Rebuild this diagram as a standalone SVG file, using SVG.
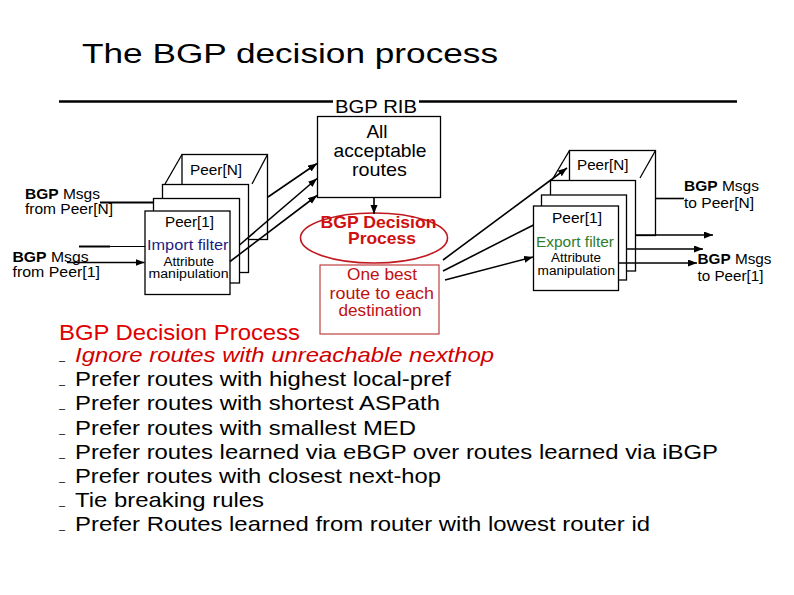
<svg xmlns="http://www.w3.org/2000/svg" width="794" height="595" viewBox="0 0 794 595">
<defs>
<marker id="ah" markerUnits="userSpaceOnUse" markerWidth="10" markerHeight="8" refX="9" refY="3.5" orient="auto">
<path d="M0,0 L9,3.5 L0,7 z" fill="#000"/>
</marker>
<style>
text{font-family:"Liberation Sans",Arial,sans-serif;fill:#000}
.box{fill:#fff;stroke:#000;stroke-width:1.3}
.ln{stroke:#000;stroke-width:1.6;fill:none}
.arr{stroke:#000;stroke-width:1.6;fill:none;marker-end:url(#ah)}
.s15{font-size:15px}
.s14{font-size:14px}
.s13{font-size:12.5px}
.b{font-weight:bold}
.bul{font-size:21px}
.dash{font-size:11px}
.red{font-size:16px;fill:#c01010}
</style>
</defs>
<rect width="794" height="595" fill="#fff"/>
<text x="82" y="63" style="font-size:27px" textLength="416" lengthAdjust="spacingAndGlyphs">The BGP decision process</text>

<g id="rib">
<line x1="59" y1="101.5" x2="333" y2="101.5" stroke="#000" stroke-width="2.5"/>
<line x1="419" y1="101.5" x2="737" y2="101.5" stroke="#000" stroke-width="2.5"/>
<text x="335" y="112.5" style="font-size:17.5px" textLength="82" lengthAdjust="spacingAndGlyphs">BGP RIB</text>
<rect x="317.5" y="116.5" width="123" height="81" class="box"/>
<text x="377" y="138" style="font-size:19px" text-anchor="middle">All</text>
<text x="333.5" y="157" style="font-size:19px" textLength="93" lengthAdjust="spacingAndGlyphs">acceptable</text>
<text x="352" y="176" style="font-size:19px" textLength="55" lengthAdjust="spacingAndGlyphs">routes</text>
</g>

<g id="decision">
<ellipse cx="374" cy="238" rx="73.5" ry="25" fill="none" stroke="#c0181e" stroke-width="1.6"/>
<text x="320.5" y="227.5" style="font-size:16.5px;font-weight:bold;fill:#d01010" textLength="116" lengthAdjust="spacingAndGlyphs">BGP Decision</text>
<text x="348" y="244" style="font-size:16.5px;font-weight:bold;fill:#d01010" textLength="68" lengthAdjust="spacingAndGlyphs">Process</text>
</g>

<g id="best">
<rect x="320" y="265" width="119" height="69" fill="#fff" stroke="#b83030" stroke-width="1.1"/>
<text x="347" y="280" class="red" textLength="70" lengthAdjust="spacingAndGlyphs">One best</text>
<text x="329.5" y="298.5" class="red" textLength="104.5" lengthAdjust="spacingAndGlyphs">route to each</text>
<text x="338.5" y="316" class="red" textLength="83" lengthAdjust="spacingAndGlyphs">destination</text>
</g>

<g id="import-stack">
<rect x="182" y="154.5" width="85.5" height="85" class="box"/>
<line x1="182" y1="154.5" x2="165" y2="184" class="box"/>
<line x1="267.5" y1="154.5" x2="252" y2="184" class="box"/>
<text x="190" y="174.5" class="s15" textLength="52" lengthAdjust="spacingAndGlyphs">Peer[N]</text>
<rect x="162.5" y="184.5" width="86" height="88" class="box"/>
<rect x="153.5" y="198.5" width="86" height="84.5" class="box"/>
<rect x="145" y="211" width="85" height="83.5" class="box"/>
<text x="165" y="226.5" class="s15" textLength="49" lengthAdjust="spacingAndGlyphs">Peer[1]</text>
<text x="147" y="250" class="s15" style="fill:#1c1c84" textLength="81.5" lengthAdjust="spacingAndGlyphs">Import filter</text>
<text x="163.5" y="265.5" class="s13" textLength="50.5" lengthAdjust="spacingAndGlyphs">Attribute</text>
<text x="148.5" y="278" class="s13" textLength="80" lengthAdjust="spacingAndGlyphs">manipulation</text>
</g>

<g id="export-stack">
<rect x="569.5" y="150.5" width="86" height="85" class="box"/>
<line x1="569.5" y1="150.5" x2="552" y2="180" class="box"/>
<line x1="655.5" y1="150.5" x2="640" y2="178" class="box"/>
<text x="577" y="170" class="s15" textLength="51.5" lengthAdjust="spacingAndGlyphs">Peer[N]</text>
<rect x="550.5" y="180.5" width="85" height="90.5" class="box"/>
<rect x="541.5" y="195" width="85" height="85" class="box"/>
<rect x="533.5" y="206" width="85" height="84.5" class="box"/>
<text x="552" y="222.5" class="s15" textLength="50" lengthAdjust="spacingAndGlyphs">Peer[1]</text>
<text x="536" y="246.5" class="s15" style="fill:#2e7d2e" textLength="78" lengthAdjust="spacingAndGlyphs">Export filter</text>
<text x="551" y="261.5" class="s13" textLength="50" lengthAdjust="spacingAndGlyphs">Attribute</text>
<text x="537.5" y="275" class="s13" textLength="77.5" lengthAdjust="spacingAndGlyphs">manipulation</text>
</g>

<g id="labels">
<text x="25" y="198.5" class="s14" textLength="75" lengthAdjust="spacingAndGlyphs"><tspan class="b">BGP</tspan> Msgs</text>
<text x="25" y="213.5" class="s14" textLength="88" lengthAdjust="spacingAndGlyphs">from Peer[N]</text>
<text x="12.5" y="261.5" class="s14" textLength="76" lengthAdjust="spacingAndGlyphs"><tspan class="b">BGP</tspan> Msgs</text>
<text x="12.5" y="277" class="s14" textLength="87.5" lengthAdjust="spacingAndGlyphs">from Peer[1]</text>
<text x="684" y="191" class="s14" textLength="75" lengthAdjust="spacingAndGlyphs"><tspan class="b">BGP</tspan> Msgs</text>
<text x="684" y="208" class="s14" textLength="70" lengthAdjust="spacingAndGlyphs">to Peer[N]</text>
<text x="697.5" y="263.5" class="s14" textLength="74" lengthAdjust="spacingAndGlyphs"><tspan class="b">BGP</tspan> Msgs</text>
<text x="697.5" y="280.5" class="s14" textLength="66" lengthAdjust="spacingAndGlyphs">to Peer[1]</text>
</g>

<g id="connectors">
<line x1="100" y1="202.5" x2="153.5" y2="202.5" class="ln" style="stroke-width:2"/>
<line x1="79" y1="246.5" x2="110" y2="246.5" class="ln" style="stroke-width:2"/>
<line x1="110" y1="246.5" x2="145" y2="246.5" class="ln" style="stroke-width:1"/>
<line x1="67" y1="262.5" x2="144.5" y2="262.5" class="arr"/>
<line x1="268" y1="197" x2="317" y2="163.5" class="arr"/>
<line x1="239.5" y1="245" x2="317" y2="178.5" class="arr"/>
<line x1="230" y1="261.5" x2="317" y2="195.5" class="arr"/>
<line x1="374" y1="198" x2="374" y2="214" class="arr"/>
<line x1="443" y1="260" x2="567" y2="168" class="arr"/>
<line x1="443" y1="271" x2="533.5" y2="225" class="ln"/>
<line x1="445" y1="280" x2="533" y2="257" class="arr"/>
<line x1="655.5" y1="198.5" x2="684" y2="198.5" class="ln"/>
<line x1="635.5" y1="235" x2="713" y2="235" class="arr"/>
<line x1="626.5" y1="249" x2="703" y2="249" class="arr"/>
<line x1="618.5" y1="263" x2="697" y2="263" class="arr"/>
</g>

<g id="rules">
<text x="59" y="339.5" style="font-size:22px;fill:#e00000" textLength="241" lengthAdjust="spacingAndGlyphs">BGP Decision Process</text>
<text x="59" y="364" class="dash">–</text>
<text x="75" y="362" class="bul" style="fill:#d00000;font-style:italic" textLength="419" lengthAdjust="spacingAndGlyphs">Ignore routes with unreachable nexthop</text>
<text x="59" y="388" class="dash">–</text>
<text x="75" y="386" class="bul" textLength="376" lengthAdjust="spacingAndGlyphs">Prefer routes with highest local-pref</text>
<text x="59" y="412" class="dash">–</text>
<text x="75" y="410" class="bul" textLength="365" lengthAdjust="spacingAndGlyphs">Prefer routes with shortest ASPath</text>
<text x="59" y="436.5" class="dash">–</text>
<text x="75" y="434.5" class="bul" textLength="341" lengthAdjust="spacingAndGlyphs">Prefer routes with smallest MED</text>
<text x="59" y="460.5" class="dash">–</text>
<text x="75" y="458.5" class="bul" textLength="643" lengthAdjust="spacingAndGlyphs">Prefer routes learned via eBGP over routes learned via iBGP</text>
<text x="59" y="485" class="dash">–</text>
<text x="75" y="483" class="bul" textLength="366" lengthAdjust="spacingAndGlyphs">Prefer routes with closest next-hop</text>
<text x="59" y="509" class="dash">–</text>
<text x="75" y="507" class="bul" textLength="189" lengthAdjust="spacingAndGlyphs">Tie breaking rules</text>
<text x="59" y="533" class="dash">–</text>
<text x="75" y="531" class="bul" textLength="575" lengthAdjust="spacingAndGlyphs">Prefer Routes learned from router with lowest router id</text>
</g>
</svg>
